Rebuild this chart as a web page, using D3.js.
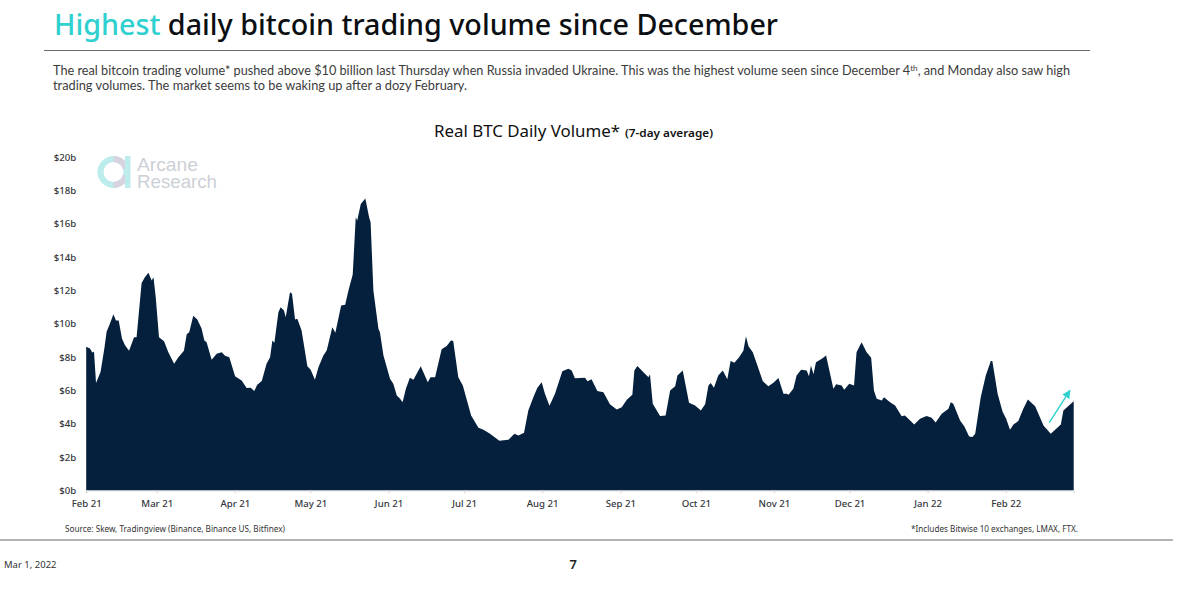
<!DOCTYPE html>
<html>
<head>
<meta charset="utf-8">
<script src="https://cdn.jsdelivr.net/npm/d3@7"></script>
<style>
  html, body { margin: 0; padding: 0; background: #fff; }
</style>
</head>
<body>
<svg id="slide" width="1178" height="604" font-family="Noto Sans, sans-serif"></svg>
<script>
// Days since Feb 1 2021
var dayOffsets = [
  0, 1.5, 2.4, 3.1, 3.9, 5.7, 7.2, 8.1, 9.4, 10.8, 11.8, 12.9, 14.2, 15.4, 17, 19, 20, 22, 23.3, 24.7,
  26, 26.7, 27.6, 28.9, 30.9, 32.6, 34.9, 36.6, 38.8, 39.9, 40.9, 42.5, 44.1, 45.8, 46.9, 47.8, 49.8,
  51.8, 53.8, 55.1, 56.8, 59.1, 61.7, 63.7, 65.3, 66.7, 67.9, 69.7, 71.6, 73, 73.9, 74.7, 76.3, 77.2,
  78.5, 79.2, 80.9, 81.7, 82.9, 83.8, 85.5, 87.8, 89.1, 90.8, 92.2, 94.1, 95.5, 97.7, 98.9, 101.2,
  102.8, 104.1, 105.8, 107, 107.6, 109, 110.8, 112.3, 112.9, 114, 116, 116.6, 118, 120.6, 121.9,
  123.3, 124.6, 125.6, 126.9, 128.5, 129.9, 132.8, 135.6, 136.7, 138.5, 141.1, 143.1, 144.8, 145.7,
  147.7, 149.5, 152.8, 155.7, 157.7, 160.3, 164, 167.6, 170, 171.6, 173.8, 175.5, 177.5, 179.1, 180.8,
  182.1, 183.9, 186.1, 189, 191.4, 192.7, 194, 198, 199, 200.6, 202.9, 205.3, 207.9, 210.6, 212.6,
  214.6, 216.8, 217.6, 218.8, 221.2, 223.2, 223.8, 224.9, 227.8, 230, 231.8, 233.8, 234.7, 236.8,
  239.3, 241.7, 244, 245.7, 247, 247.9, 249.2, 250.9, 252.7, 254.5, 255.8, 257.3, 259.2, 260.9, 261.9,
  262.9, 264.6, 266.2, 268.6, 270.8, 272.8, 274.8, 276.8, 278.1, 278.8, 280.7, 282, 283.8, 286, 286.9,
  287.7, 288.7, 289.7, 292, 293.7, 295.3, 296.6, 297.7, 299.9, 300.9, 302.9, 304.8, 305.8, 307.8,
  309.8, 311.6, 312.7, 313.8, 315.8, 316.7, 319.1, 321.1, 323.7, 325, 328.7, 331, 333.6, 335.6, 337.2,
  339.6, 342.3, 343.2, 344.2, 346.9, 348.6, 350.5, 351.8, 352.9, 355.1, 357.1, 359.1, 359.7, 361.8,
  363.8, 365.2, 366.7, 368.1, 370, 372, 373.8, 376.7, 380, 382.9, 386.9, 387.9, 392
];

// Real BTC volume, $ billions, same order as dayOffsets
var volumes = [
  8.62, 8.52, 8.28, 8.32, 6.45, 7.11, 8.52, 9.52, 10, 10.58, 10.2, 10.2, 9.12, 8.72, 8.38, 9.2, 9.2, 12.46, 12.8, 13.07,
  12.6, 12.8, 11.6, 9.2, 8.96, 8.3, 7.6, 8, 8.38, 9.38, 9.5, 10.48, 10.26, 9.72, 9, 8.9, 7.85,
  8.2, 8.3, 8.08, 8, 6.85, 6.6, 6.15, 6.17, 5.97, 6.35, 6.57, 7.6, 8, 9, 8.86, 10.7, 11,
  10.8, 10.4, 11.9, 11.8, 10.26, 10.3, 9.6, 7.45, 7.25, 6.65, 7.4, 8.08, 8.42, 9.8, 9.46, 11.1,
  11.15, 12, 12.96, 16.4, 16.2, 17.2, 17.52, 16.4, 16.1, 12, 9.7, 9.5, 8.1, 6.7, 6.4,
  5.7, 5.5, 5.3, 6.1, 6.77, 6.65, 7.45, 6.5, 6.8, 6.8, 8.47, 8.67, 9, 8.97,
  6.8, 6.3, 4.5, 3.76, 3.64, 3.4, 2.98, 3.04, 3.4, 3.3, 3.46, 4.8, 5.6, 6.17, 6.5,
  5.8, 5.08, 5.8, 7.15, 7.3, 7.2, 6.73, 6.77, 6.55, 6.67, 5.97, 5.9, 5.17, 4.86, 5,
  5.45, 5.75, 7.2, 7.47, 7.1, 6.8, 6.97, 5.2, 4.46, 4.5, 6, 6.25, 6.9, 7.2,
  5.27, 5.1, 4.8, 5.17, 6.3, 6.45, 6.17, 6.9, 7.2, 6.67, 7.77, 7.67, 8, 8.4, 9.25,
  8.65, 8.3, 7.6, 6.55, 6.25, 6.47, 6.75, 5.8, 5.8, 5.75, 6.1, 6.9, 7.25, 7.2, 6.85,
  7.5, 6.97, 7.7, 7.9, 8.1, 7, 6.1, 6.37, 6.3, 6.05, 6.4, 6.3, 8.3, 8.9,
  8.3, 7.97, 6, 5.5, 5.4, 5.6, 5.3, 5.1, 4.45, 4.5, 3.96, 4.3, 4.46, 4.36, 4.08,
  4.6, 4.9, 5.3, 5.2, 4.2, 3.84, 3.24, 3.2, 3.4, 5.6, 6.9, 7.77, 7.77, 5.8,
  4.7, 4.3, 3.64, 3.96, 4.16, 4.9, 5.46, 5.06, 3.9, 3.4, 3.96, 4.8, 5.36
];

var monthTicks = ["2021-02-01", "2021-03-01", "2021-04-01", "2021-05-01", "2021-06-01", "2021-07-01", "2021-08-01",
  "2021-09-01", "2021-10-01", "2021-11-01", "2021-12-01", "2022-01-01", "2022-02-01"];
var volumeTicks = [0, 2, 4, 6, 8, 10, 12, 14, 16, 18, 20];

// Arrow start and tip: day offset, $ billions
var arrowDays = [382.3, 390.5];
var arrowVolumes = [4.07, 6.0];

var navy = "#04203c";
var teal = "#2fd0cf";

var svg = d3.select("#slide");
var parseDay = d3.utcParse("%Y-%m-%d");
var firstDay = parseDay("2021-02-01");
var toDate = (d) => new Date(firstDay.getTime() + d * 86400000);

var x = d3.scaleUtc()
  .domain([firstDay, toDate(392)])
  .range([86.2, 1073.7]);
var y = d3.scaleLinear().domain([0, 20]).range([490.4, 157.3]);

// Header
var title = svg.append("text")
  .attr("x", 54).attr("y", 34.5)
  .attr("font-size", 29.5).attr("font-weight", 500)
  .attr("fill", "#0c0f12")
  .attr("textLength", 724).attr("lengthAdjust", "spacingAndGlyphs");
title.append("tspan").attr("fill", teal).text("Highest");
title.append("tspan").text(" daily bitcoin trading volume since December");

svg.append("line").attr("x1", 44).attr("x2", 1090).attr("y1", 50.5).attr("y2", 50.5)
  .attr("stroke", "#6b6b6b").attr("stroke-width", 1.2);

var intro = svg.append("text")
  .attr("x", 53).attr("y", 75)
  .attr("font-family", "Lato").attr("font-size", 12.4).attr("fill", "#3c3c3c")
  .attr("textLength", 1017).attr("lengthAdjust", "spacingAndGlyphs");
intro.append("tspan").text("The real bitcoin trading volume* pushed above $10 billion last Thursday when Russia invaded Ukraine. This was the highest volume seen since December 4");
intro.append("tspan").attr("dy", -4).attr("font-size", 8).text("th");
intro.append("tspan").attr("dy", 4).text(", and Monday also saw high");

svg.append("text")
  .attr("x", 53).attr("y", 90)
  .attr("font-family", "Lato").attr("font-size", 12.4).attr("fill", "#3c3c3c")
  .attr("textLength", 414).attr("lengthAdjust", "spacingAndGlyphs")
  .text("trading volumes. The market seems to be waking up after a dozy February.");

// Chart title
svg.append("text")
  .attr("x", 434).attr("y", 137)
  .attr("font-size", 17).attr("fill", "#111")
  .attr("textLength", 186).attr("lengthAdjust", "spacingAndGlyphs")
  .text("Real BTC Daily Volume*");
svg.append("text")
  .attr("x", 625).attr("y", 137)
  .attr("font-size", 11.5).attr("font-weight", 600).attr("fill", "#111")
  .attr("textLength", 88).attr("lengthAdjust", "spacingAndGlyphs")
  .text("(7-day average)");

// Logo
var logoArc = d3.arc().innerRadius(10).outerRadius(16);
var logo = svg.append("g").attr("transform", "translate(113.5,172)");
logo.append("circle").attr("r", 13).attr("fill", "none").attr("stroke", "#bdeced").attr("stroke-width", 6);
logo.append("path").attr("d", logoArc({ startAngle: 0, endAngle: 1.3 })).attr("fill", "#d8d3de");
logo.append("path").attr("d", logoArc({ startAngle: 1.85, endAngle: 3.15 })).attr("fill", "#d8d3de");
logo.append("rect").attr("x", 11.5).attr("y", -16).attr("width", 5.5).attr("height", 32).attr("fill", "#bdeced");
svg.append("text").attr("x", 137).attr("y", 171).attr("font-size", 18.5)
  .attr("fill", "#ccd0d6").attr("font-family", "Liberation Sans")
  .attr("textLength", 61).attr("lengthAdjust", "spacingAndGlyphs").text("Arcane");
svg.append("text").attr("x", 137).attr("y", 188).attr("font-size", 18.5)
  .attr("fill", "#ccd0d6").attr("font-family", "Liberation Sans")
  .attr("textLength", 80).attr("lengthAdjust", "spacingAndGlyphs").text("Research");

// Area
var points = dayOffsets.map((d, i) => [toDate(d), volumes[i]]);
var area = d3.area()
  .x((d) => x(d[0]))
  .y0(y(0))
  .y1((d) => y(d[1]));
svg.append("path").datum(points).attr("d", area).attr("fill", navy);

// Axes
var xAxis = d3.axisBottom(x)
  .tickValues(monthTicks.map(parseDay))
  .tickFormat(d3.utcFormat("%b %y"))
  .tickSize(3);
var xGroup = svg.append("g").attr("transform", "translate(0,490.4)").call(xAxis);
xGroup.select(".domain").attr("stroke", "#d8d8d8");
xGroup.selectAll(".tick line").attr("stroke", "#d8d8d8");
xGroup.selectAll(".tick text")
  .attr("font-size", 9.6).attr("font-weight", 500).attr("fill", "#33363c")
  .attr("font-family", "Noto Sans").attr("y", 10);

var yAxis = d3.axisLeft(y)
  .tickValues(volumeTicks)
  .tickFormat((d) => "$" + d + "b")
  .tickSize(0);
var yGroup = svg.append("g").attr("transform", "translate(86.2,0)").call(yAxis);
yGroup.select(".domain").remove();
yGroup.selectAll(".tick text")
  .attr("font-size", 9.6).attr("font-weight", 500).attr("fill", "#33363c")
  .attr("font-family", "Noto Sans").attr("x", -10);

// Arrow
var defs = svg.append("defs");
defs.append("marker").attr("id", "head")
  .attr("viewBox", "0 0 10 10").attr("refX", 9).attr("refY", 5)
  .attr("markerWidth", 6).attr("markerHeight", 6).attr("orient", "auto")
  .append("path").attr("d", "M0,0L10,5L0,10z").attr("fill", teal);
svg.append("line")
  .attr("x1", x(toDate(arrowDays[0]))).attr("y1", y(arrowVolumes[0]))
  .attr("x2", x(toDate(arrowDays[1]))).attr("y2", y(arrowVolumes[1]))
  .attr("stroke", teal).attr("stroke-width", 1.4)
  .attr("marker-end", "url(#head)");

// Footer
svg.append("text").attr("x", 65).attr("y", 531.5).attr("font-size", 9).attr("fill", "#333")
  .attr("textLength", 220).attr("lengthAdjust", "spacingAndGlyphs")
  .text("Source: Skew, Tradingview (Binance, Binance US, Bitfinex)");
svg.append("text").attr("x", 911).attr("y", 531.5).attr("font-size", 9).attr("fill", "#333")
  .attr("textLength", 167).attr("lengthAdjust", "spacingAndGlyphs")
  .text("*Includes Bitwise 10 exchanges, LMAX, FTX.");
svg.append("line").attr("x1", 0).attr("x2", 1173).attr("y1", 540).attr("y2", 540)
  .attr("stroke", "#6b6b6b").attr("stroke-width", 1.2);
svg.append("text").attr("x", 4).attr("y", 568).attr("font-size", 9.8).attr("fill", "#333")
  .attr("textLength", 52.5).attr("lengthAdjust", "spacingAndGlyphs")
  .text("Mar 1, 2022");
svg.append("text").attr("x", 569.5).attr("y", 569).attr("font-size", 13).attr("font-weight", 600).attr("fill", "#222")
  .text("7");
</script>
</body>
</html>
